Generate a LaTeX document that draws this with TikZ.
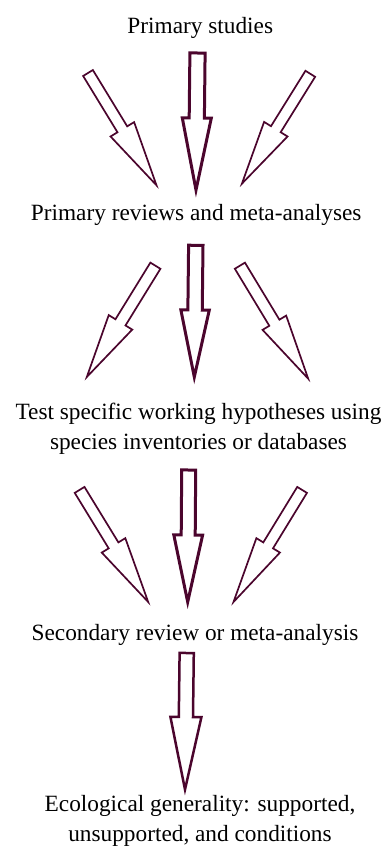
\documentclass[tikz,border=0pt]{standalone}
\usepackage{fontspec}
\setmainfont{Liberation Serif}
\usetikzlibrary{calc}
\definecolor{arrowmaroon}{RGB}{75,5,45}
\tikzset{
  thickarrow/.style={draw=arrowmaroon, line width=3pt, fill=white, line join=miter},
  midarrow/.style={draw=arrowmaroon, line width=2.5pt, fill=white, line join=miter},
  thinarrow/.style={draw=arrowmaroon, line width=1.7pt, fill=white, line join=miter},
  lbl/.style={font=\fontsize{23.3}{30}\selectfont, inner sep=0pt, anchor=base, align=center},
}
% #1 style, #2 tail coordinate, #3 tip coordinate, #4 half shaft width, #5 half head width, #6 head length
\newcommand{\blockarrow}[6]{%
  \coordinate (nk) at ($(#3)!#6!(#2)$);
  \draw[#1] ($(#2)!#4!90:(#3)$) -- ($(nk)!#4!-90:(#2)$) -- ($(nk)!#5!-90:(#2)$) -- (#3)
     -- ($(nk)!#5!90:(#2)$) -- ($(nk)!#4!90:(#2)$) -- ($(#2)!#4!-90:(#3)$) -- cycle;
}
\begin{document}
\begin{tikzpicture}[x=1pt, y={(0pt,-1pt)}]
\useasboundingbox (0,0) rectangle (390,849);
% row 1
\coordinate (c1t) at (197.5,53);   \coordinate (c1h) at (196,190);
\coordinate (l1t) at (88,73);      \coordinate (l1h) at (156.5,185.3);
\coordinate (r1t) at (310.3,73.8); \coordinate (r1h) at (241.9,183.7);
% row 2
\coordinate (c2t) at (195.8,245.3); \coordinate (c2h) at (194.3,377);
\coordinate (l2t) at (155.4,265.7); \coordinate (l2h) at (86.8,377);
\coordinate (r2t) at (239.9,265.7); \coordinate (r2h) at (308.2,378.7);
% row 3
\coordinate (c3t) at (188.7,470);   \coordinate (c3h) at (187.7,602);
\coordinate (l3t) at (79.6,489.9);  \coordinate (l3h) at (148.2,602);
\coordinate (r3t) at (302.1,489.9); \coordinate (r3h) at (233.5,602);
% row 4
\coordinate (c4t) at (186.7,653);   \coordinate (c4h) at (185,789.5);

\blockarrow{thinarrow}{l1t}{l1h}{5.7pt}{13.8pt}{65.6pt}
\blockarrow{thinarrow}{r1t}{r1h}{5.7pt}{13.8pt}{64.2pt}
\blockarrow{thickarrow}{c1t}{c1h}{7.6pt}{14.5pt}{72pt}

\blockarrow{thinarrow}{l2t}{l2h}{5.9pt}{13.8pt}{64.2pt}
\blockarrow{thinarrow}{r2t}{r2h}{5.9pt}{13.8pt}{65.4pt}
\blockarrow{thickarrow}{c2t}{c2h}{7.2pt}{14.2pt}{67pt}

\blockarrow{thinarrow}{l3t}{l3h}{5.7pt}{13.8pt}{66.4pt}
\blockarrow{thinarrow}{r3t}{r3h}{5.7pt}{13.8pt}{66.4pt}
\blockarrow{thickarrow}{c3t}{c3h}{7pt}{14.4pt}{67pt}

\blockarrow{midarrow}{c4t}{c4h}{7.1pt}{15.5pt}{72.5pt}

\node[lbl] (t0) at (200.3,33.3) {Primary studies};
\node[lbl] (t1) at (196.2,220) {Primary reviews and meta-analyses};
\node[lbl] (t2) at (198.5,449) {Test specific working hypotheses using\\species inventories or databases};
\node[lbl] (t3) at (195,640) {Secondary review or meta-analysis};
\node[lbl] (t4) at (200,841) {Ecological generality: supported,\\unsupported, and conditions};
\end{tikzpicture}
\end{document}
